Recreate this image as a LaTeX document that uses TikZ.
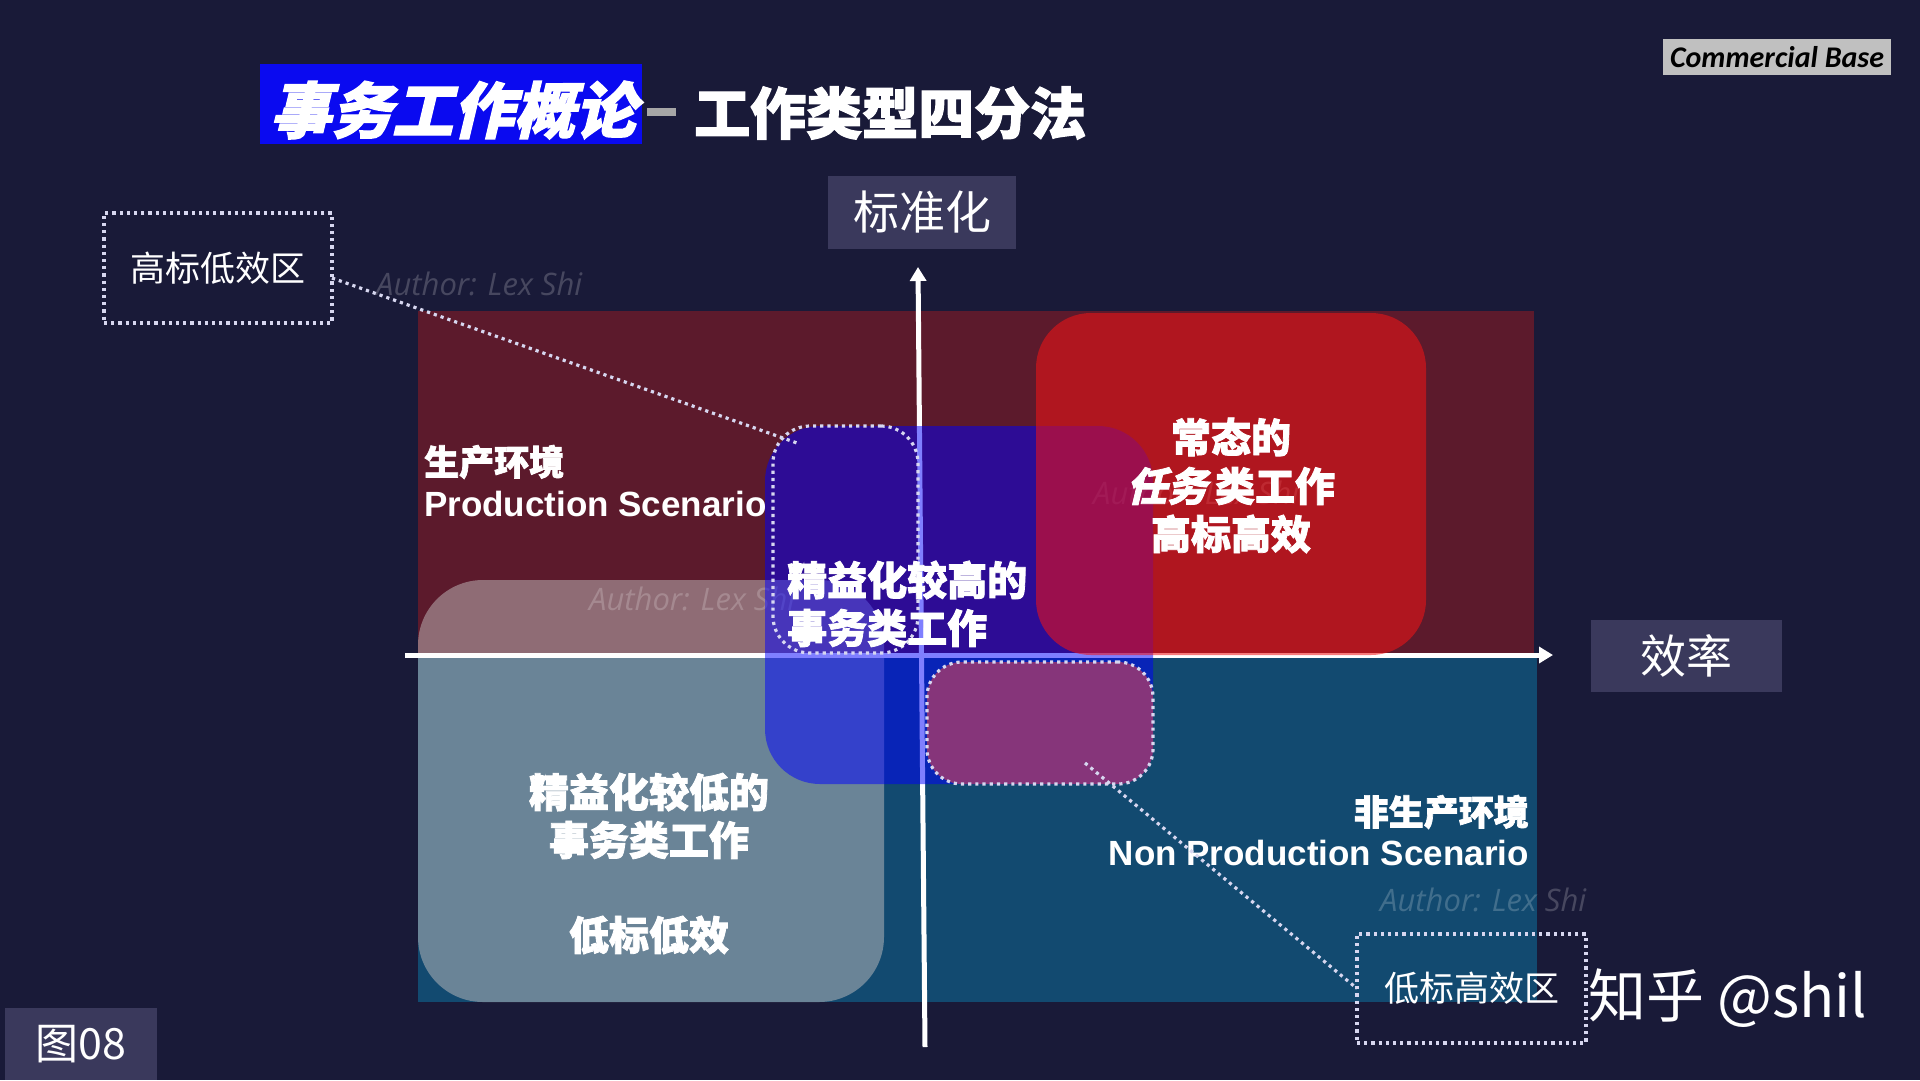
\documentclass[tikz,border=0pt]{standalone}
\usepackage{fontspec}
\setmainfont{Liberation Sans}
\newfontfamily\cjk{Noto Sans CJK SC}
\newfontfamily\cjkh[BoldFeatures={FakeBold=2}]{Noto Sans CJK SC}
\newfontfamily\cjkhi[UprightFeatures={FakeSlant=0.24},BoldFeatures={FakeSlant=0.24,FakeBold=2}]{Noto Sans CJK SC}
\newfontfamily\carl{Carlito}
\newfontfamily\opensans{Open Sans}
\usetikzlibrary{arrows.meta}
\definecolor{bg}{RGB}{25,26,56}
\definecolor{maroon}{RGB}{92,26,44}
\definecolor{qblue}{RGB}{18,74,112}
\definecolor{graybox}{RGB}{194,190,190}
\definecolor{pureblue}{RGB}{0,0,255}
\definecolor{pred}{RGB}{242,19,21}
\definecolor{purp}{RGB}{134,53,122}
\definecolor{labelbg}{RGB}{58,57,92}
\definecolor{cbgray}{RGB}{192,192,192}
\definecolor{titleblue}{RGB}{10,10,240}
\definecolor{dotc}{RGB}{215,215,240}
\tikzset{
  lbl/.style={fill=labelbg, text=white, font=\cjk\fontsize{46}{50}\selectfont, inner sep=0pt, outer sep=0pt},
  dotbox/.style={draw=dotc, line width=3.2pt, dash pattern=on 3.2pt off 4pt, inner sep=0pt, outer sep=0pt},
  dotline/.style={draw=dotc, line width=3.2pt, dash pattern=on 3.2pt off 4pt},
  wm/.style={font=\opensans\itshape\fontsize{31}{34}\selectfont, text=white, text opacity=0.2, anchor=west, inner sep=0pt},
  wt/.style={text=white, font=\cjkh\bfseries\fontsize{40}{46}\selectfont, inner sep=0pt},
  wts/.style={text=white, font=\cjkh\bfseries\fontsize{35}{40}\selectfont, inner sep=0pt},
  en/.style={text=white, font=\bfseries\fontsize{35}{38}\selectfont, inner sep=0pt},
  axisline/.style={draw=white, line width=5pt, -{Triangle[width=16pt,length=14pt]}},
  zone/.style={dotbox, text=white, font=\cjk\fontsize{35}{40}\selectfont}
}
\begin{document}
\begin{tikzpicture}[x=1pt,y=-1pt]
\useasboundingbox (0,0) rectangle (1920,1080);
\fill[bg] (0,0) rectangle (1920,1080);

% title
\node[fill=titleblue, minimum width=382pt, minimum height=80pt, inner sep=0pt, anchor=north west] (tbox) at (260,64) {};
\node[text=white, font=\cjkhi\bfseries\fontsize{61}{64}\selectfont, inner sep=0pt] (t1) at (453,110) {事务工作概论};
\node[fill=gray!70, minimum width=29pt, minimum height=8pt, inner sep=0pt] (tdash) at (661,112) {};
\node[text=white, font=\cjkh\bfseries\fontsize{56}{60}\selectfont, anchor=west, inner sep=0pt] (t2) at (694,113) {工作类型四分法};

% commercial base
\node[fill=cbgray, minimum width=228pt, minimum height=36pt, inner sep=0pt, text=black, font=\carl\bfseries\itshape\fontsize{30}{32}\selectfont] (cb) at (1777,57) {Commercial Base};

% quadrant backgrounds
\fill[maroon] (418,311) rectangle (1534,655);
\fill[qblue] (418,655) rectangle (1537,1002);

% low-lean box
\fill[graybox, fill opacity=0.5, rounded corners=65pt] (418,580) rectangle (884,1002);

% watermarks
\node[wm] (w1) at (376,284) {Author: Lex Shi};
\node[wm] (w2) at (589,599) {Author: Lex Shi};
\node[wm] (w3) at (1093,493) {Author: Lex Shi};
\node[wm] (w4) at (1380,900) {Author: Lex Shi};

% production scenario text
\node[wts, anchor=west] (p1) at (424,462) {生产环境};
\node[en, anchor=west] (p2) at (424,504) {Production Scenario};

% axes
\coordinate (xs) at (405,655);
\coordinate (xe) at (1553,655);
\coordinate (ys) at (925,1047);
\coordinate (ye) at (918,267);
\draw[axisline] (xs) -- (xe);
\draw[axisline] (ys) -- (ye);

% high-lean blue box
\fill[pureblue, fill opacity=0.5, rounded corners=55pt] (765,426) rectangle (1153,784);
% red box
\fill[pred, fill opacity=0.56, rounded corners=55pt] (1036,313) rectangle (1426,655);

% purple zone
\node[dotbox, fill=purp, rounded corners=35pt, minimum width=226pt, minimum height=122pt, anchor=north west] (pq) at (927,662) {};
% dotted zone (high standard, low efficiency)
\node[dotbox, rounded corners=37pt, minimum width=145pt, minimum height=227pt, anchor=north west] (hq) at (773,426) {};

% texts
\node[wt] (r1) at (1231,437) {常态的};
\node[wt] (r2) at (1231,486) {{\cjkhi\bfseries 任务}\hspace{8pt}类工作};
\node[wt] (r3) at (1231,534) {高标高效};

\node[wt, anchor=west] (h1) at (787,580) {精益化较高的};
\node[wt, anchor=west] (h2) at (787,628) {事务类工作};

\node[wt] (l1) at (649,792) {精益化较低的};
\node[wt] (l2) at (649,840) {事务类工作};
\node[wt] (l3) at (649,935) {低标低效};

\node[wts, anchor=east] (n1) at (1529,812) {非生产环境};
\node[en, anchor=east] (n2) at (1529,853) {Non Production Scenario};

% axis labels
\node[lbl, minimum width=188pt, minimum height=73pt] (std) at (922,212.5) {标准化};
\node[lbl, minimum width=191pt, minimum height=72pt] (eff) at (1686.5,656) {效率};
\node[lbl, font=\cjk\fontsize{43}{48}\selectfont, minimum width=152pt, minimum height=72pt] (fig) at (81,1044) {图08};

% zone labels
\node[zone, minimum width=228pt, minimum height=110pt] (hb) at (218,268) {高标低效区};
\node[zone, minimum width=229pt, minimum height=109pt] (lb) at (1471.5,988.5) {低标高效区};

% connectors
\draw[dotline] ([yshift=-10pt]hb.east) -- ([shift={(24pt,-17pt)}]hq.north west);
\draw[dotline] ([shift={(158pt,-101pt)}]pq.north west) -- (lb.west);

% signature
\node[text=white, font=\cjk\fontsize{58}{60}\selectfont, anchor=west, inner sep=0pt] (zh) at (1588,998) {知乎 @shil};
\end{tikzpicture}
\end{document}
